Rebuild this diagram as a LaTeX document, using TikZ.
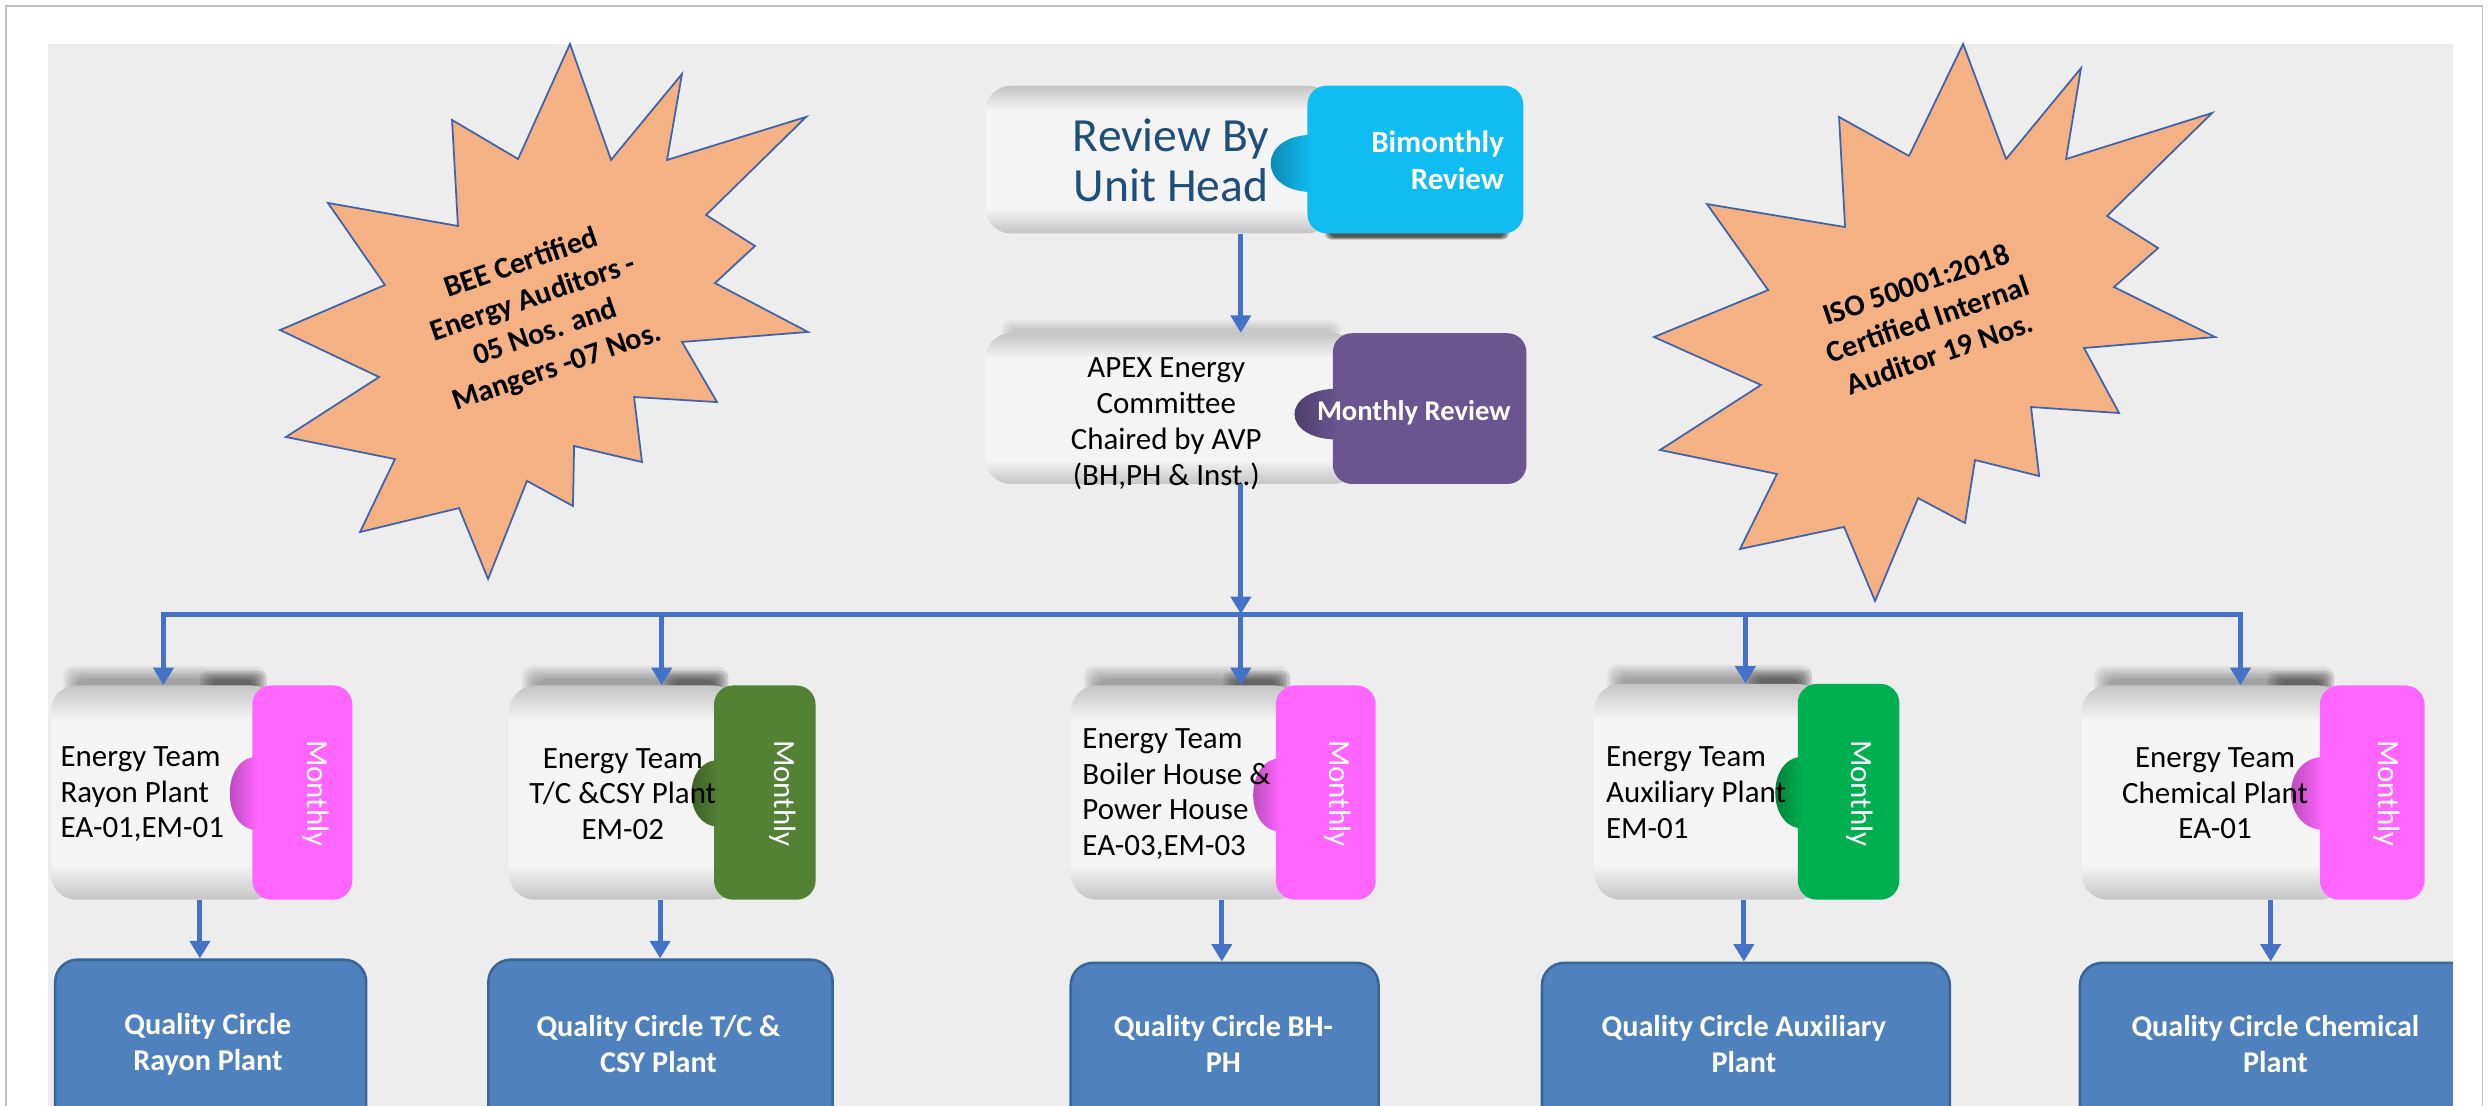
\documentclass[tikz,border=0pt]{standalone}
\usepackage{fontspec}
\setmainfont{Carlito}
\usetikzlibrary{arrows.meta,fit}
\definecolor{panel}{HTML}{EDEDED}
\definecolor{arrowblue}{HTML}{4472C4}
\definecolor{starfill}{HTML}{F4B183}
\definecolor{starline}{HTML}{3F62A8}
\definecolor{qcfill}{HTML}{4F81BD}
\definecolor{qcline}{HTML}{3A6597}
\definecolor{tabcyan}{HTML}{10BDF2}
\definecolor{tabpurple}{HTML}{6A5590}
\definecolor{tabpink}{HTML}{FF66FF}
\definecolor{tabdkgreen}{HTML}{548235}
\definecolor{tabgreen}{HTML}{00B050}
\definecolor{headblue}{HTML}{1F4E79}
\definecolor{bodyedge}{HTML}{C4C4C4}
\definecolor{bodymid}{HTML}{F4F4F4}
\pgfdeclareverticalshading{bodyshade}{100bp}{color(0bp)=(bodyedge); color(25bp)=(bodyedge); color(33bp)=(bodymid); color(67bp)=(bodymid); color(75bp)=(bodyedge); color(100bp)=(bodyedge)}
\newcommand\bumpd{15}
% #1 name, #2 body left, #3 tab left, #4 tab right, #5 top, #6 bottom, #7 bump top, #8 bump bottom, #9 tab colour
\newcommand\puzzle[9]{%
  \shade[shading=bodyshade,rounded corners=16pt] (#2,#5) rectangle (#3+16,#6);
  \fill[#9,rounded corners=12pt] (#3,#5) rectangle (#4,#6);
  \shade[left color=#9!65!black,right color=#9] (#3+3,#7) .. controls (#3-\bumpd*1.33,#7) and (#3-\bumpd*1.33,#8) .. (#3+3,#8) -- cycle;
  \coordinate (#1-nw) at (#2,#5);
  \coordinate (#1-se) at (#4,#6);
  \node[fit=(#1-nw)(#1-se),inner sep=0pt] (#1) {};
}
% soft shadow above a team box: #1 left, #2 right, #3 top of box
\newcommand\topshadow[3]{%
  \foreach \k in {0,...,5}{\fill[black,opacity=0.06,rounded corners=6pt] (#1+\k*1.6,#3-12+\k*1.6) rectangle (#2-\k*1.6,#3+6);}
  \foreach \k in {0,...,4}{\fill[black,opacity=0.09,rounded corners=4pt] (#2-42+\k*2,#3-9+\k*1.4) rectangle (#2-\k*2,#3+5);}
}
\begin{document}
\begin{tikzpicture}[x=1pt,y=-1pt,
  arr/.style={draw=arrowblue,line width=3.2pt,-{Triangle[width=12.5pt,length=11pt]}},
  busline/.style={draw=arrowblue,line width=3.2pt},
  starshape/.style={fill=starfill,draw=starline,line width=1.1pt,line join=miter},
  startext/.style={font=\bfseries\fontsize{19}{23}\selectfont,align=center,rotate=19,inner sep=0pt},
  teamtxt/.style={font=\fontsize{19.5}{22.5}\selectfont,inner sep=0pt},
  tabtxt/.style={font=\fontsize{19.5}{22}\selectfont,text=white,rotate=-90,inner sep=0pt},
  qcbox/.style={draw=qcline,fill=qcfill,line width=1.6pt,rounded corners=14pt,inner sep=0pt,anchor=north west},
  qctxt/.style={font=\bfseries\fontsize{19}{23}\selectfont,text=white,align=center,inner sep=0pt}]
\useasboundingbox (0,0) rectangle (1568,697);
\clip (0,0) rectangle (1568,697);
\fill[white] (0,0) rectangle (1568,697);
\fill[panel] (30,28) rectangle (1546,700);

% starbursts
\path[starshape] (359.2,27.7) -- (385.1,100.8) -- (429.8,46.6) -- (420.4,100.8) -- (508.0,73.7) -- (445.0,135.5) -- (475.8,155.0) -- (450.6,178.4) -- (509.2,209.2) -- (429.8,215.5) -- (451.9,253.4) -- (399.6,250.2) -- (404.6,291.2) -- (361.8,281.1) -- (361.1,318.9) -- (332.1,303.1) -- (307.6,364.9) -- (289.3,320.2) -- (226.9,335.3) -- (248.9,289.3) -- (180.2,275.4) -- (238.9,237.6) -- (176.5,208.0) -- (242.6,179.6) -- (206.7,127.9) -- (288.6,142.4) -- (284.9,75.6) -- (326.5,100.2) -- cycle;
\node[startext] (s1t) at (340,199) {BEE Certified\\Energy Auditors -\\05 Nos. and\\Mangers -07 Nos.};
\path[starshape] (1237.2,27.7) -- (1264.3,100.2) -- (1311.5,42.9) -- (1302.1,100.2) -- (1394.1,71.2) -- (1327.9,136.1) -- (1360.1,156.3) -- (1332.3,180.9) -- (1396.0,212.4) -- (1313.4,219.3) -- (1335.5,260.3) -- (1280.0,256.5) -- (1285.1,300.0) -- (1244.7,289.9) -- (1238.4,329.6) -- (1208.8,313.9) -- (1181.7,378.8) -- (1162.2,332.1) -- (1096.6,346.0) -- (1119.9,298.7) -- (1046.2,283.6) -- (1109.8,242.6) -- (1042.4,212.4) -- (1114.3,182.8) -- (1075.8,128.6) -- (1162.8,143.1) -- (1159.0,73.7) -- (1203.1,98.3) -- cycle;
\node[startext] (s2t) at (1215,201) {ISO 50001:2018\\Certified Internal\\Auditor 19 Nos.};

% top boxes
\foreach \k in {0,...,3}{\fill[black,opacity=0.22,rounded corners=4pt] (835+\k,139+\k*0.5) rectangle (951-\k,151-\k*0.5);}
\renewcommand\bumpd{24}
\puzzle{rev}{621}{824}{960}{54}{147}{85}{121}{tabcyan}
\node[font=\fontsize{30}{31.5}\selectfont,text=headblue,align=center,inner sep=0pt] (revt) at (738,101) {Review By\\Unit Head};
\node[font=\bfseries\fontsize{19.5}{23.5}\selectfont,text=white,align=right,anchor=east,inner sep=0pt] (revtab) at (948,101) {Bimonthly\\Review};

\renewcommand\bumpd{25}
\foreach \k in {0,...,3}{\fill[black,opacity=0.04,rounded corners=6pt] (631+\k*1.5,202+\k*1.5) rectangle (845-\k*1.5,214);}
\puzzle{apex}{621}{840}{962}{210}{305}{245}{277}{tabpurple}
\node[teamtxt,align=center] (apext) at (735,267) {APEX Energy\\Committee\\Chaired by AVP\\(BH,PH \& Inst.)};
\node[font=\bfseries\fontsize{18}{20}\selectfont,text=white,inner sep=0pt] (apextab) at (891,260) {Monthly Review};

% energy teams
\renewcommand\bumpd{15}
\topshadow{40}{168}{432}
\puzzle{t1}{32}{159}{222}{432}{567}{477}{523}{tabpink}
\topshadow{329}{459}{432}
\puzzle{t2}{321}{450}{514}{432}{567}{479}{521}{tabdkgreen}
\topshadow{683}{813}{432}
\puzzle{t3}{675}{804}{867}{432}{567}{478}{524}{tabpink}
\topshadow{1013}{1142}{431}
\puzzle{t4}{1005}{1133}{1197}{431}{567}{477}{522}{tabgreen}
\renewcommand\bumpd{19}
\topshadow{1320}{1471}{432}
\puzzle{t5}{1312}{1462}{1528}{432}{567}{477}{523}{tabpink}

\node[tabtxt] (t1m) at (199,500) {Monthly};
\node[tabtxt] (t2m) at (493,500) {Monthly};
\node[tabtxt] (t3m) at (843,500) {Monthly};
\node[tabtxt] (t4m) at (1172,500) {Monthly};
\node[tabtxt] (t5m) at (1504,500) {Monthly};

\node[teamtxt,align=left,anchor=west] (t1t) at (38,500.5) {Energy Team\\Rayon Plant\\EA-01,EM-01};
\node[teamtxt,align=center] (t2t) at (392.5,500.5) {Energy Team\\T/C \&CSY Plant\\EM-02};
\node[teamtxt,align=left,anchor=west] (t3t) at (682,500.5) {Energy Team\\Boiler House \&\\Power House\\EA-03,EM-03};
\node[teamtxt,align=left,anchor=west] (t4t) at (1012,499.5) {Energy Team\\Auxiliary Plant\\EM-01};
\node[teamtxt,align=center] (t5t) at (1396,500) {Energy Team\\Chemical Plant\\EA-01};

% quality circles
\node[qcbox,minimum width=196pt,minimum height=130pt] (q1) at (34,604) {};
\node[qcbox,minimum width=217pt,minimum height=130pt] (q2) at (307,604) {};
\node[qcbox,minimum width=194pt,minimum height=130pt] (q3) at (674,606) {};
\node[qcbox,minimum width=257pt,minimum height=130pt] (q4) at (971,606) {};
\node[qcbox,minimum width=250pt,minimum height=130pt] (q5) at (1310,606) {};
\node[qctxt] (q1t) at (131,658) {Quality Circle\\Rayon Plant};
\node[qctxt] (q2t) at (415,658) {Quality Circle T/C \&\\CSY Plant};
\node[qctxt] (q3t) at (771,658) {Quality Circle BH-\\PH};
\node[qctxt] (q4t) at (1099,658) {Quality Circle Auxiliary\\Plant};
\node[qctxt] (q5t) at (1434,658) {Quality Circle Chemical\\Plant};

% connectors
\coordinate (busL) at (103,387);
\coordinate (bus2) at (417,387);
\coordinate (busc) at (782,387);
\coordinate (bus4) at (1100,387);
\coordinate (busR) at (1412,387);
\coordinate (q1c) at (126,600);
\coordinate (q2c) at (416,600);
\coordinate (q3c) at (770,600);
\coordinate (q4c) at (1099,600);
\coordinate (q5c) at (1431,600);
\draw[busline] ([xshift=-1.6pt]busL) -- ([xshift=1.6pt]busR);
\draw[arr] (rev.south -| busc) -- (apex.north -| busc);
\draw[arr] (apex.south -| busc) -- (busc);
\draw[arr] (busL) -- (t1.north -| busL);
\draw[arr] (bus2) -- (t2.north -| bus2);
\draw[arr] (busc) -- (t3.north -| busc);
\draw[arr] (bus4) -- (t4.north -| bus4);
\draw[arr] (busR) -- (t5.north -| busR);
\draw[arr] (t1.south -| q1c) -- (q1.north -| q1c);
\draw[arr] (t2.south -| q2c) -- (q2.north -| q2c);
\draw[arr] (t3.south -| q3c) -- (q3.north -| q3c);
\draw[arr] (t4.south -| q4c) -- (q4.north -| q4c);
\draw[arr] (t5.south -| q5c) -- (q5.north -| q5c);

% right margin and frame
\fill[white] (1546,0) rectangle (1568,700);
\draw[black!25,line width=1.2pt] (3.5,700) -- (3.5,3.5) -- (1564.5,3.5) -- (1564.5,700);
\end{tikzpicture}
\end{document}
